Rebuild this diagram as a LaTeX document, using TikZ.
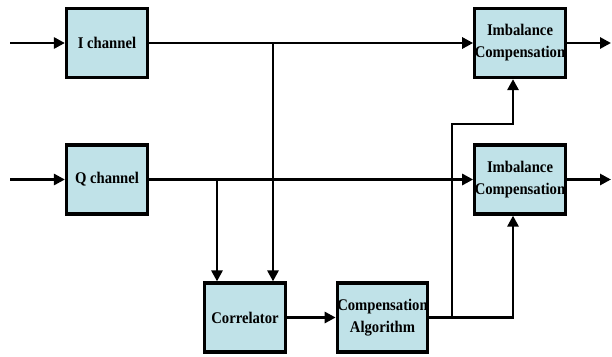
\documentclass[tikz,border=0pt]{standalone}
\usepackage{fontspec}
\setmainfont{Liberation Serif}[FakeStretch=0.9]
\usetikzlibrary{arrows.meta}
\definecolor{boxfill}{RGB}{192,226,232}
\begin{document}
\begin{tikzpicture}[x=1pt,y=-1pt,
  blk/.style={draw=black,line width=3.2pt,fill=boxfill,minimum width=81pt,minimum height=69pt,
    inner sep=0pt,align=center,font=\bfseries\fontsize{16.3}{22}\selectfont},
  wire/.style={line width=2.8pt},
  arr/.style={wire,-{Triangle[length=11pt,width=11pt]}}]
\useasboundingbox (0,0) rectangle (612,356);
\node[blk] (ich) at (107,43) {I channel};
\node[blk] (qch) at (107,179.5) {Q channel};
\node[blk] (cor) at (245,317.5) {Correlator};
\node[blk,minimum width=84pt] (alg) at (382.5,317.5) {Compensation\\Algorithm};
\node[blk] (imb1) at (520,43) {Imbalance\\Compensation};
\node[blk] (imb2) at (520,179.5) {Imbalance\\Compensation};
\coordinate (inI) at (10,43);
\coordinate (inQ) at (10,179.5);
\coordinate (outI) at (611,43);
\coordinate (outQ) at (611,179.5);
\coordinate (brI) at (273,43);
\coordinate (brQ) at (217,179.5);
\coordinate (brA) at (452,317.5);
\coordinate (cA) at (513,317.5);
\coordinate (up1) at (452,124);
\coordinate (up2) at (513,124);
\draw[arr] (inI) -- (ich.west);
\draw[arr] (inQ) -- (qch.west);
\draw[arr] (ich.east) -- (imb1.west);
\draw[arr] (qch.east) -- (imb2.west);
\draw[arr] (imb1.east) -- (outI);
\draw[arr] (imb2.east) -- (outQ);
\draw[arr] (brI) -- (brI |- cor.north);
\draw[arr] (brQ) -- (brQ |- cor.north);
\draw[arr] (cor.east) -- (alg.west);
\draw[arr] (alg.east) -- (cA) -- (cA |- imb2.south);
\draw[arr] (brA) -- (up1) -- (up2) -- (up2 |- imb1.south);
\end{tikzpicture}
\end{document}
